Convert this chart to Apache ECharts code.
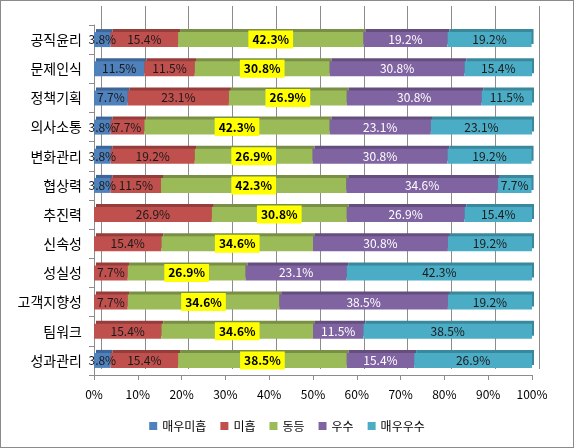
<!DOCTYPE html>
<html><head><meta charset="utf-8">
<script src="https://cdn.jsdelivr.net/npm/echarts@6/dist/echarts.min.js"></script>
<style>html,body{margin:0;padding:0;background:#fff}#c{width:574px;height:448px;box-sizing:border-box;border:1px solid #8a8a8a}</style>
</head><body><div id="c"></div>
<script>
const categories = ['공직윤리','문제인식','정책기획','의사소통','변화관리','협상력','추진력','신속성','성실성','고객지향성','팀워크','성과관리'];
const seriesNames = ['매우미흡','미흡','동등','우수','매우우수'];
const veryPoor = [3.8,11.5,7.7,3.8,3.8,3.8,0,0,0,0,0,3.8];
const poor     = [15.4,11.5,23.1,7.7,19.2,11.5,26.9,15.4,7.7,7.7,15.4,15.4];
const equal    = [42.3,30.8,26.9,42.3,26.9,42.3,30.8,34.6,26.9,34.6,34.6,38.5];
const good     = [19.2,30.8,30.8,23.1,30.8,34.6,26.9,30.8,23.1,38.5,11.5,15.4];
const veryGood = [19.2,15.4,11.5,23.1,19.2,7.7,15.4,19.2,42.3,19.2,38.5,26.9];
const xTicks = ['0%','10%','20%','30%','40%','50%','60%','70%','80%','90%','100%'];

const values = [veryPoor, poor, equal, good, veryGood];
const colors = ['#4F81BD','#C0504D','#9BBB59','#8064A2','#4BACC6'];
const darks  = ['#3D6595','#953D3B','#788F45','#634E7E','#3A889C'];
const labelColors = ['#1a1a1a','#1a1a1a','#000','#fff','#1a1a1a'];
const font = '"Noto Sans CJK KR","DejaVu Sans",sans-serif';

const chart = echarts.init(document.getElementById('c'));
const series = values.map((arr, i) => ({
  name: seriesNames[i], type: 'bar', stack: 'all', xAxisIndex: 1, yAxisIndex: 1,
  data: arr, barWidth: 15,
  itemStyle: {color: colors[i], shadowColor: darks[i], shadowOffsetX: 2, shadowOffsetY: -3, shadowBlur: 0},
  label: {
    show: true, position: 'inside', fontFamily: font, fontSize: 12,
    color: labelColors[i], fontWeight: i === 2 ? 'bold' : 'normal',
    backgroundColor: i === 2 ? '#FFFF00' : 'transparent',
    padding: i === 2 ? [3, 4, 3, 4] : 0,
    formatter: p => p.value ? p.value.toFixed(1) + '%' : ''
  }
}));
series.push({type: 'bar', xAxisIndex: 0, yAxisIndex: 0, data: [], silent: true});

chart.setOption({
  animation: false,
  textStyle: {fontFamily: font},
  legend: {
    data: seriesNames, bottom: 10, left: 'center', icon: 'rect', itemWidth: 8, itemHeight: 8, itemGap: 14,
    textStyle: {fontFamily: font, fontSize: 12, color: '#000'}
  },
  grid: [
    {left: 100, right: 34, top: 5, bottom: 78, containLabel: false},
    {left: 93, right: 41, top: 24, bottom: 72, containLabel: false}
  ],
  xAxis: [
    {gridIndex: 0, type: 'value', min: 0, max: 100, interval: 10, axisLabel: {show: false}, axisLine: {show: false}, axisTick: {show: false},
     splitLine: {show: true, lineStyle: {color: '#8c8c8c', width: 1}}},
    {gridIndex: 1, type: 'value', min: 0, max: 100, interval: 10,
     axisLabel: {formatter: v => xTicks[Math.round(v / 10)], fontSize: 12, color: '#000', fontFamily: font, margin: 13},
     axisLine: {show: true, lineStyle: {color: '#8c8c8c'}}, axisTick: {show: true, length: 5, lineStyle: {color: '#8c8c8c'}},
     splitLine: {show: false}}
  ],
  yAxis: [
    {gridIndex: 0, type: 'category', data: categories, show: false},
    {gridIndex: 1, type: 'category', data: categories, inverse: true,
     axisLabel: {fontSize: 14, color: '#000', fontFamily: font, margin: 12},
     axisLine: {show: true, lineStyle: {color: '#8c8c8c'}}, axisTick: {show: true, length: 5, lineStyle: {color: '#8c8c8c'}}}
  ],
  series: series
});
</script></body></html>
